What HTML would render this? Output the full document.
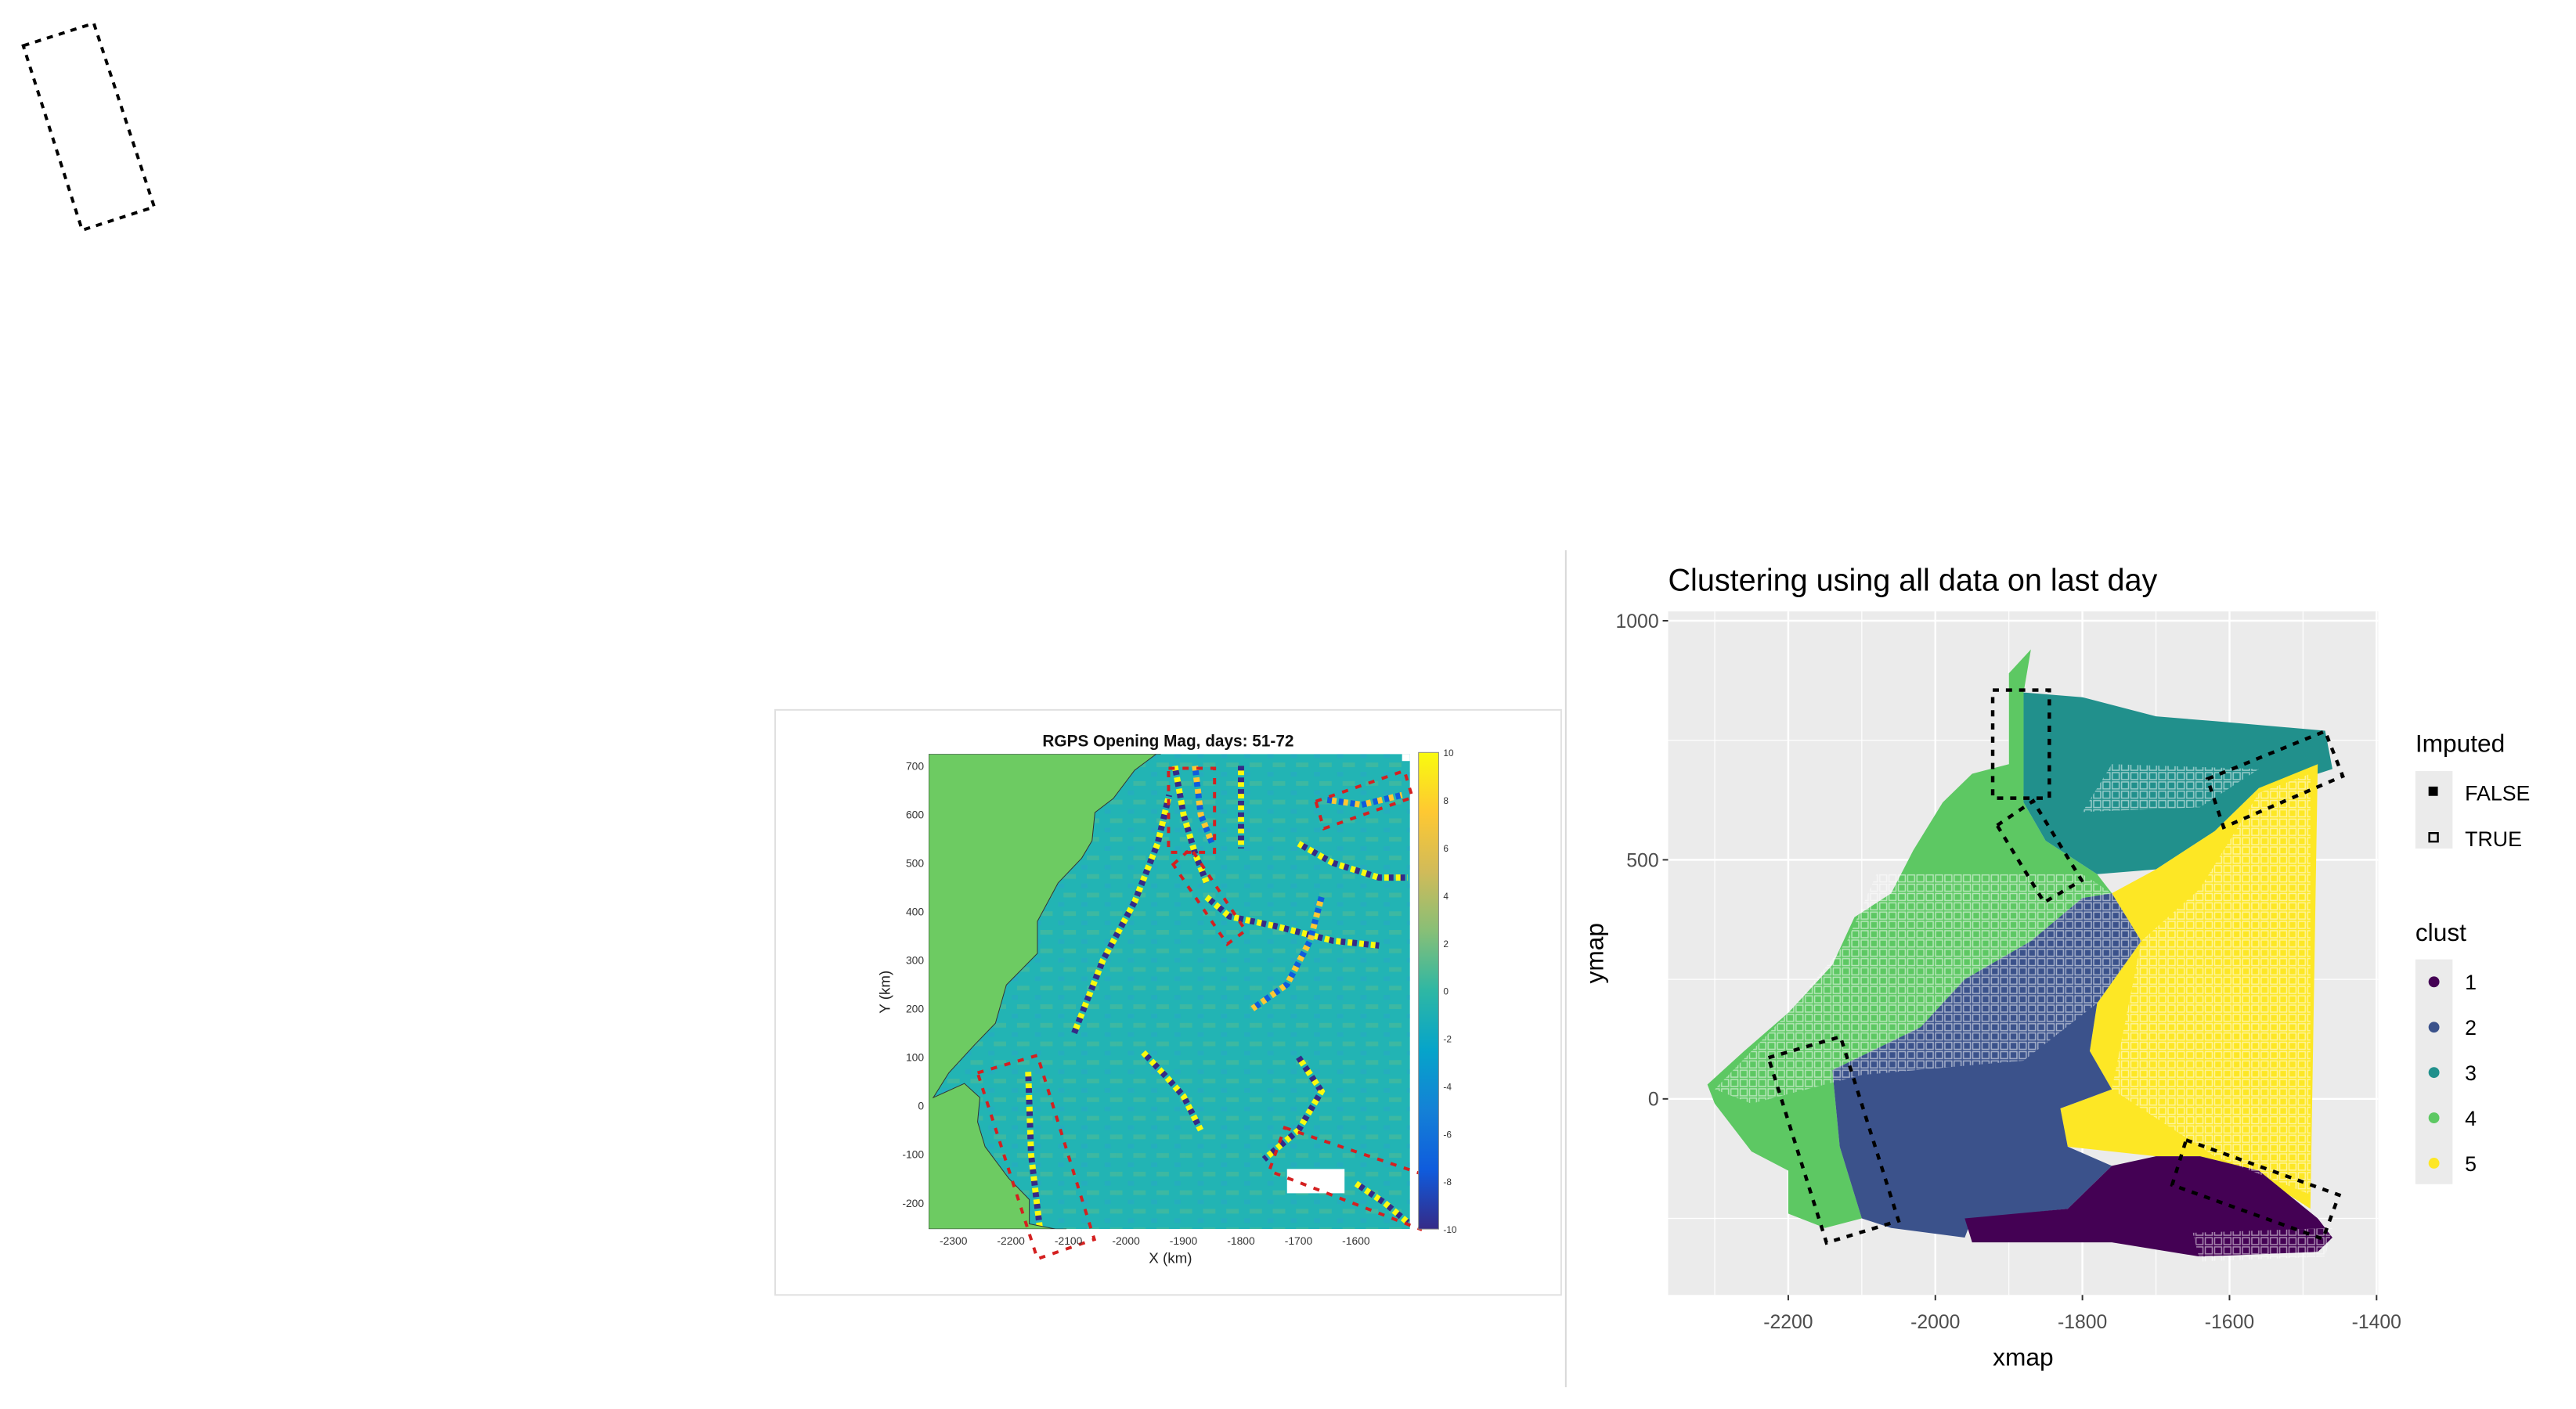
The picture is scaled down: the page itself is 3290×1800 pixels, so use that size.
<!DOCTYPE html>
<html><head><meta charset="utf-8"><style>
html,body{margin:0;padding:0;background:#fff;}
svg{display:block;font-family:"Liberation Sans",sans-serif;}
</style></head><body>
<svg id="root" width="3290" height="1800" viewBox="0 0 3290 1800" xmlns="http://www.w3.org/2000/svg">
<defs>
<linearGradient id="parula" x1="0" y1="1" x2="0" y2="0">
<stop offset="0" stop-color="#352A87"/><stop offset="0.125" stop-color="#0F5CDD"/><stop offset="0.25" stop-color="#1481D6"/><stop offset="0.375" stop-color="#06A4CA"/><stop offset="0.5" stop-color="#2EB7A4"/><stop offset="0.625" stop-color="#87BF77"/><stop offset="0.75" stop-color="#D1BB59"/><stop offset="0.875" stop-color="#FEC832"/><stop offset="1" stop-color="#F9FB0E"/>
</linearGradient>
<pattern id="mottle" width="30" height="24" patternUnits="userSpaceOnUse">
<rect x="0" y="0" width="8" height="6" fill="#5cbf8a" opacity="0.45"/><rect x="15" y="12" width="8" height="6" fill="#2b9fd0" opacity="0.35"/><rect x="22" y="0" width="8" height="6" fill="#7cc27a" opacity="0.3"/>
</pattern>
<pattern id="hatch" width="12" height="12" patternUnits="userSpaceOnUse">
<rect x="1" y="1" width="9" height="9" fill="none" stroke="#ffffff" stroke-width="1.5" opacity="0.55"/>
</pattern>
</defs>
<g transform="scale(0.99)">
<polygon points="30,59 121,30 199,267 106,297" fill="none" stroke="#000" stroke-width="4" stroke-dasharray="8,8"/>
<rect x="1000" y="916" width="1014" height="755" fill="#fff" stroke="#e0e0e0" stroke-width="2"/>
<line x1="2020" y1="710" x2="2020" y2="1790" stroke="#d8d8d8" stroke-width="2"/>
<g id="left"></g>
<g id="right"></g>
</g>
</svg>
<script>
const NS="http://www.w3.org/2000/svg";
function mk(tag,attrs,parent,text){const e=document.createElementNS(NS,tag);for(const k in attrs)e.setAttribute(k,attrs[k]);if(text!==undefined)e.textContent=text;parent.appendChild(e);return e;}

// ===== Left chart data =====
const lxTicks=[-2300,-2200,-2100,-2000,-1900,-1800,-1700,-1600];
const lyTicks=[700,600,500,400,300,200,100,0,-100,-200];
const cbTicks=[10,8,6,4,2,0,-2,-4,-6,-8,-10];
const coastX=[-1940,-1985,-2022,-2054,-2059,-2077,-2118,-2154,-2154,-2208,-2227,-2263,-2308,-2335,-2281,-2254,-2258,-2245,-2204,-2168,-2168,-2104];
const coastY=[731,691,633,604,546,510,459,380,314,249,170,126,68,17,46,17,-33,-84,-149,-193,-243,-258];
const crackVals=[9,-9,9,-9,9,8,-8,9,-9,9,-8,9];
const crackPts=[
 [[-2170,70],[-2165,-100],[-2150,-250]],
 [[-2090,150],[-2040,300],[-1985,420],[-1945,540],[-1925,640]],
 [[-1915,700],[-1900,600],[-1880,520],[-1860,460]],
 [[-1800,700],[-1800,530]],
 [[-1860,430],[-1820,390],[-1740,370],[-1640,340],[-1560,330]],
 [[-1880,700],[-1870,600],[-1850,540]],
 [[-1660,430],[-1680,340],[-1720,250],[-1780,200]],
 [[-1970,110],[-1930,60],[-1900,20],[-1870,-50]],
 [[-1700,100],[-1660,30],[-1700,-50],[-1760,-110]],
 [[-1600,-160],[-1550,-200],[-1510,-240]],
 [[-1650,630],[-1590,620],[-1520,640]],
 [[-1700,540],[-1640,500],[-1560,470],[-1510,470]]];
const holeX=[-1720,-1620,-1620,-1720];
const holeY=[-130,-130,-180,-180];
const redBoxes=[
 [[-1926,695],[-1846,695],[-1846,522],[-1926,522]],
 [[-1918,497],[-1887,530],[-1792,361],[-1824,333]],
 [[-1670,627],[-1516,690],[-1502,635],[-1656,571]],
 [[-1724,-45],[-1461,-150],[-1488,-254],[-1751,-134]],
 [[-2258,68],[-2154,104],[-2055,-275],[-2154,-315]]];

const LX0=1198,LX1=1819,LY0=973,LY1=1586;
function lx(v){return 1230+(v+2300)*0.742;}
function ly(v){return 1427-v*0.6267;}
function parula(v){const s=["#352A87","#0F5CDD","#1481D6","#06A4CA","#2EB7A4","#87BF77","#D1BB59","#FEC832","#F9FB0E"];let t=(v+10)/20*8;return s[Math.max(0,Math.min(8,Math.round(t)))];}
(function(){
 const g=document.getElementById('left');
 const cp=mk('clipPath',{id:'lclip'},g);mk('rect',{x:LX0,y:LY0,width:LX1-LX0,height:LY1-LY0},cp);
 const pg=mk('g',{'clip-path':'url(#lclip)'},g);
 const bg=mk('rect',{x:LX0,y:LY0,width:LX1-LX0,height:LY1-LY0,fill:'#22b4b4'},pg);
 
 mk('rect',{x:LX0,y:LY0,width:LX1-LX0,height:LY1-LY0,fill:'url(#mottle)'},pg);
 for(let i=0;i<crackPts.length;i++){
  const pl=mk('polyline',{points:crackPts[i].map(p=>lx(p[0])+','+ly(p[1])).join(' '),fill:'none',stroke:parula(crackVals[i]),'stroke-width':8,'stroke-dasharray':'9,6','stroke-linejoin':'miter'},pg);
  
  
  const pl2=mk('polyline',{points:crackPts[i].map(p=>lx(p[0])+','+ly(p[1])).join(' '),fill:'none',stroke:parula(-crackVals[i]),'stroke-width':8,'stroke-dasharray':'6,9','stroke-dashoffset':9},pg);
  
  
 }
 let land='M'+LX0+','+LY0+' L'+lx(coastX[0])+','+LY0;
 for(let i=0;i<coastX.length;i++)land+=' L'+lx(coastX[i])+','+ly(coastY[i]);
 land+=' L'+lx(coastX[coastX.length-1])+','+LY1+' L'+LX0+','+LY1+'Z';
 const lp=mk('path',{d:land,fill:'#6dcb62',stroke:'#333',"stroke-width":1},pg);
 
 const hp=mk('polygon',{points:holeX.map((x,i)=>lx(x)+','+ly(holeY[i])).join(' '),fill:'#fff'},pg);
 
 mk('rect',{x:lx(-1520),y:LY0,width:LX1-lx(-1520),height:ly(710)-LY0,fill:'#fff'},pg);
 for(const b of redBoxes){
  const r=mk('polygon',{points:b.map(p=>lx(p[0])+','+ly(p[1])).join(' '),fill:'none',stroke:'#d42020','stroke-width':4,'stroke-dasharray':'8,10'},g);
  
 }
 const t=mk('text',{x:1507,y:963,'text-anchor':'middle','font-size':21,'font-weight':'bold',fill:'#111'},g,'RGPS Opening Mag, days: 51-72');
 
 for(const v of lxTicks){const e=mk('text',{x:lx(v),y:1606,'text-anchor':'middle','font-size':14,fill:'#333'},g,String(v));}
 for(const v of lyTicks){const e=mk('text',{x:1192,y:ly(v)+5,'text-anchor':'end','font-size':14,fill:'#333'},g,String(v));}
 const xt=mk('text',{x:1510,y:1630,'text-anchor':'middle','font-size':19,fill:'#222'},g,'X (km)');
 const yt=mk('text',{x:1148,y:1280,'text-anchor':'middle','font-size':19,fill:'#222',transform:'rotate(-90 1148 1280)'},g,'Y (km)');
 const cb=mk('rect',{x:1830,y:971,width:26,height:615,fill:'url(#parula)',stroke:'#888','stroke-width':1},g);
 for(const v of cbTicks){const y=971+(10-v)/20*615;const e=mk('text',{x:1862,y:y+5,'font-size':12,fill:'#333'},g,String(v));}
})();

// ===== Right chart data =====
const rxTicks=[-2200,-2000,-1800,-1600,-1400];
const ryTicks=[0,500,1000];
const clustLabels=['1','2','3','4','5'];
const clustColors=['#440154','#3B528B','#21908C','#5DC863','#FDE725'];
const clust4=[[-1880,850],[-1880,620],[-1850,540],[-1780,470],[-1760,430],[-1800,420],[-1870,330],[-1960,250],[-2020,150],[-2100,90],[-2140,60],[-2130,-100],[-2100,-250],[-2150,-270],[-2200,-240],[-2200,-150],[-2250,-110],[-2300,-10],[-2310,30],[-2260,100],[-2200,180],[-2140,280],[-2110,380],[-2060,430],[-2030,520],[-1990,620],[-1950,680],[-1900,700],[-1900,890],[-1870,940]];
const clust3=[[-1880,850],[-1800,840],[-1700,800],[-1620,790],[-1470,770],[-1460,690],[-1480,680],[-1560,650],[-1620,560],[-1700,480],[-1780,470],[-1850,540],[-1880,620]];
const clust5=[[-1480,700],[-1490,-230],[-1520,-200],[-1560,-150],[-1640,-120],[-1700,-120],[-1820,-100],[-1830,-20],[-1760,20],[-1790,100],[-1780,200],[-1720,330],[-1760,430],[-1700,480],[-1620,560],[-1560,650]];
const clust2=[[-1760,430],[-1720,330],[-1780,200],[-1790,100],[-1760,20],[-1830,-20],[-1820,-100],[-1760,-140],[-1820,-230],[-1950,-250],[-1960,-290],[-2060,-270],[-2100,-250],[-2130,-100],[-2140,60],[-2100,90],[-2020,150],[-1960,250],[-1870,330],[-1800,420]];
const clust1=[[-1760,-140],[-1700,-120],[-1640,-120],[-1560,-150],[-1520,-200],[-1480,-250],[-1460,-290],[-1480,-320],[-1640,-330],[-1760,-300],[-1950,-300],[-1960,-250],[-1820,-230]];
const hatchAreas=[
 [[-2300,20],[-2200,180],[-2120,330],[-2080,470],[-1800,470],[-1760,430],[-1720,330],[-1780,200],[-1880,80],[-2100,50],[-2250,-10]],
 [[-1560,640],[-1490,680],[-1490,-200],[-1620,-120],[-1700,-40],[-1760,20],[-1720,330],[-1640,440]],
 [[-1760,700],[-1560,690],[-1640,610],[-1800,600]],
 [[-1650,-280],[-1460,-270],[-1470,-330],[-1640,-340]]];
const dashBoxes=[
 [[-1922,855],[-1845,855],[-1845,629],[-1922,629]],
 [[-1916,572],[-1867,623],[-1801,457],[-1852,411]],
 [[-1630,669],[-1470,769],[-1446,675],[-1608,568]],
 [[-1659,-86],[-1451,-201],[-1473,-293],[-1678,-180]],
 [[-2227,86],[-2129,130],[-2050,-255],[-2148,-301]]];
const RX0=2152,RX1=3068,RY0=789,RY1=1671;
function rx(v){return 2307+(v+2200)*0.9487;}
function ry(v){return 1418-v*0.617;}
(function(){
 const g=document.getElementById('right');
 const p=mk('rect',{x:RX0,y:RY0,width:RX1-RX0,height:RY1-RY0,fill:'#EBEBEB'},g);
 for(let v=-2300;v<=-1400;v+=100){const maj=rxTicks.includes(v);mk('line',{x1:rx(v),x2:rx(v),y1:RY0,y2:RY1,stroke:'#fff','stroke-width':maj?2.5:1.2},g);}
 for(let v=-250;v<=1000;v+=250){const maj=ryTicks.includes(v);mk('line',{x1:RX0,x2:RX1,y1:ry(v),y2:ry(v),stroke:'#fff','stroke-width':maj?2.5:1.2},g);}
 const order=[[clust4,3],[clust3,2],[clust5,4],[clust2,1],[clust1,0]];
 for(const [poly,ci] of order){
  const e=mk('polygon',{points:poly.map(q=>rx(q[0])+','+ry(q[1])).join(' '),fill:clustColors[ci]},g);
  
 }
 for(const h of hatchAreas){const e=mk('polygon',{points:h.map(q=>rx(q[0])+','+ry(q[1])).join(' '),fill:'url(#hatch)'},g);}
 for(const b of dashBoxes){const e=mk('polygon',{points:b.map(q=>rx(q[0])+','+ry(q[1])).join(' '),fill:'none',stroke:'#000','stroke-width':4.5,'stroke-dasharray':'8,9'},g);}
 const t=mk('text',{x:2152,y:762,'font-size':40,fill:'#000'},g,'Clustering using all data on last day');
 for(const v of rxTicks){mk('line',{x1:rx(v),x2:rx(v),y1:RY1,y2:RY1+7,stroke:'#333','stroke-width':2},g);const e=mk('text',{x:rx(v),y:1714,'text-anchor':'middle','font-size':25,fill:'#4d4d4d'},g,String(v));}
 for(const v of ryTicks){mk('line',{x1:RX0-7,x2:RX0,y1:ry(v),y2:ry(v),stroke:'#333','stroke-width':2},g);const e=mk('text',{x:2140,y:ry(v)+9,'text-anchor':'end','font-size':25,fill:'#4d4d4d'},g,String(v));}
 const xt=mk('text',{x:2610,y:1762,'text-anchor':'middle','font-size':32,fill:'#000'},g,'xmap');
 const yt=mk('text',{x:2068,y:1230,'text-anchor':'middle','font-size':32,fill:'#000',transform:'rotate(-90 2068 1230)'},g,'ymap');
 const it=mk('text',{x:3116,y:970,'font-size':32,fill:'#000'},g,'Imputed');
 mk('rect',{x:3116,y:995,width:48,height:100,fill:'#EBEBEB'},g);
 const f1=mk('rect',{x:3133,y:1015,width:12,height:12,fill:'#000'},g);
 const f2=mk('rect',{x:3134,y:1075,width:11,height:11,fill:'none',stroke:'#000','stroke-width':2.5},g);
 const fl=mk('text',{x:3180,y:1033,'font-size':27,fill:'#000'},g,'FALSE');
 const tl=mk('text',{x:3180,y:1092,'font-size':27,fill:'#000'},g,'TRUE');
 const ct=mk('text',{x:3116,y:1214,'font-size':32,fill:'#000'},g,'clust');
 mk('rect',{x:3116,y:1238,width:48,height:290,fill:'#EBEBEB'},g);
 for(let i=0;i<clustLabels.length;i++){
  const y=1267+i*58.5;
  const c=mk('circle',{cx:3140,cy:y,r:7,fill:clustColors[i]},g);
  const l=mk('text',{x:3180,y:y+10,'font-size':27,fill:'#000'},g,clustLabels[i]);
 }
})();
</script>
</body></html>
